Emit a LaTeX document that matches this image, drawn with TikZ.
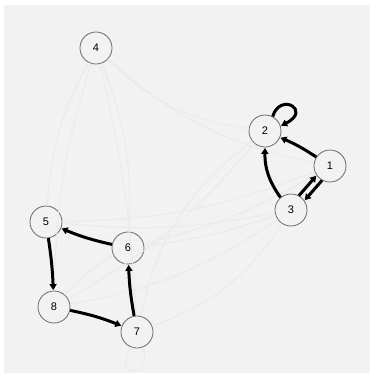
\documentclass[tikz,border=0pt]{standalone}
\usepackage{fontspec}
\setmainfont{Liberation Sans}
\usetikzlibrary{arrows.meta}
\definecolor{bg}{HTML}{F2F2F2}
\definecolor{faint}{HTML}{EAEAEA}
\definecolor{ring}{HTML}{6A6A6A}
\tikzset{
  vtx/.style={circle, draw=ring, line width=0.8pt, minimum size=32pt, inner sep=0pt, font=\fontsize{11}{11}\selectfont},
  heavy/.style={draw=black, line width=3pt, -{Triangle[length=6pt,width=7pt]}, shorten >=0.5pt},
  light/.style={draw=faint, line width=1pt}
}
\begin{document}
\begin{tikzpicture}[x=1pt,y=-1pt]
\useasboundingbox (0,0) rectangle (370,373);
\fill[white] (0,0) rectangle (370,373);
\fill[bg] (4,5) rectangle (370,373);
% nodes
\node[vtx] (n4) at (96,48) {4};
\node[vtx] (n2) at (265,131) {2};
\node[vtx] (n1) at (330,166) {1};
\node[vtx] (n3) at (291,210) {3};
\node[vtx] (n5) at (46,222) {5};
\node[vtx] (n6) at (128,248) {6};
\node[vtx] (n8) at (54,307) {8};
\node[vtx] (n7) at (137,332) {7};
% faint edges
\draw[light] (n4) to[bend right=12] (n5);
\draw[light] (n4) to[bend right=8] (n8);
\draw[light] (n4) to[bend left=5] (n7);
\draw[light] (n4) to[bend left=12] (n6);
\draw[light] (n4) to[bend right=18] (n2);
\draw[light] (n4) to[bend right=15] (n1);
\draw[light] (n3) to[bend left=8] (n5);
\draw[light] (n3) to[bend left=6] (n6);
\draw[light] (n3) to[bend left=12] (n8);
\draw[light] (n3) to[bend left=18] (n7);
\draw[light] (n2) to[bend left=10] (n8);
\draw[light] (n2) to[bend right=20] (n7);
\draw[light] (n1) to[bend left=10] (n5);
\draw[light] (n1) to[bend left=8] (n6);
\draw[light] (n6) to[bend right=10] (n8);
\draw[light, -{Triangle[length=4pt,width=4pt]}] (n7.250) .. controls (110,378) and (152,378) .. (n7.290);
% heavy edges
\draw[heavy] (n2.62) .. controls (280,92) and (312,110) .. (n2.18);
\draw[heavy] (n1) to[bend right=5] (n2);
\draw[heavy] (n3.130) to[bend left=18] (n2.270);
\draw[heavy] (n3.61) -- (n1.215);
\draw[heavy] (n1.241) -- (n3.35);
\draw[heavy] (n6) to[bend left=5] (n5);
\draw[heavy] (n5) to[bend left=3] (n8);
\draw[heavy] (n8) to[bend left=5] (n7);
\draw[heavy] (n7) to[bend left=4] (n6);
\end{tikzpicture}
\end{document}
